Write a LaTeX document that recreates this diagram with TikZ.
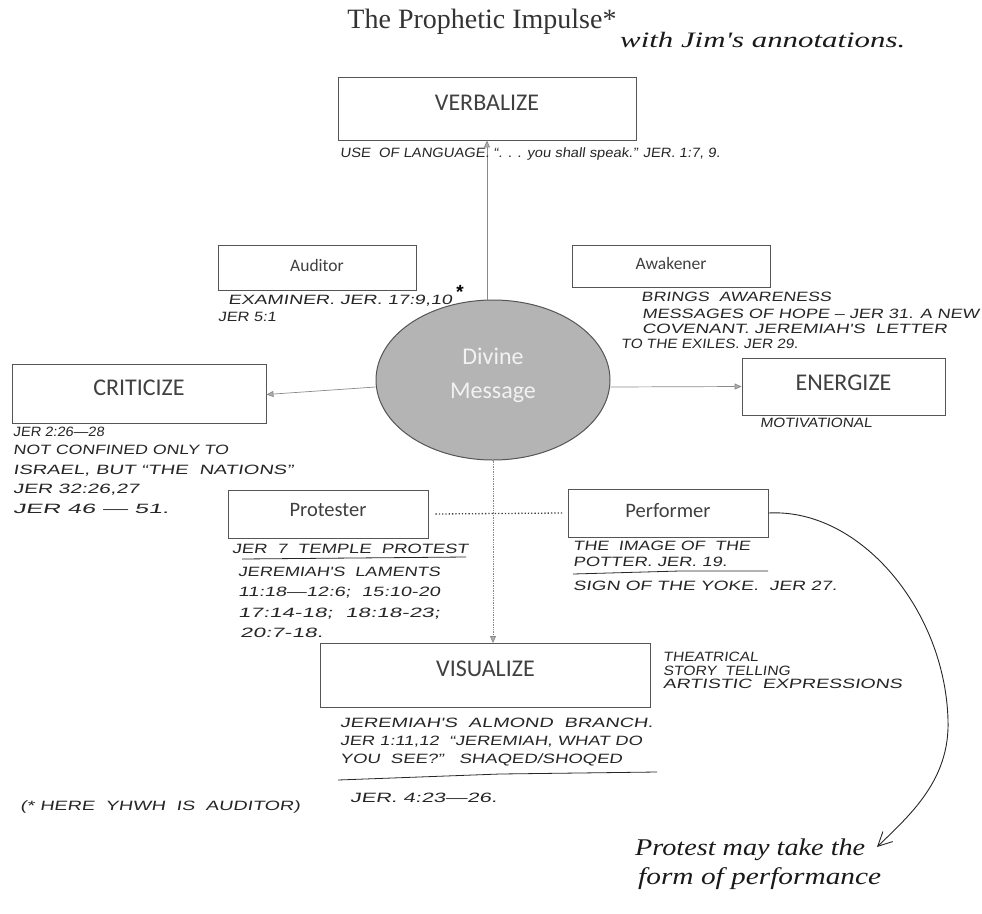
\documentclass[tikz,border=0pt]{standalone}
\usepackage{fontspec}
\usepackage{graphicx}
\setmainfont{Liberation Serif}
\newfontfamily\boxfont{Carlito}
\newfontfamily\hand{Liberation Sans}[FakeSlant=0.12]
\newfontfamily\cursive{Liberation Serif}
\usetikzlibrary{arrows.meta,shapes.geometric}
\definecolor{boxline}{HTML}{555555}
\definecolor{conn}{HTML}{8A8A8A}
\definecolor{ellfill}{HTML}{B4B4B4}
\newcommand{\hw}[2]{\resizebox{#1pt}{\height}{#2}}
\tikzset{
  rolebox/.style={draw=boxline, line width=0.9pt, fill=white, inner sep=0pt},
  roletext/.style={inner sep=0pt, font=\boxfont\fontsize{#1}{#1}\selectfont, text=black!75},
  conline/.style={draw=conn, line width=0.7pt},
  contip/.style={-{Triangle[length=7pt,width=6pt,fill=conn!70]}},
  note/.style={anchor=base west, inner sep=0pt, font=\hand\fontsize{13.5}{15}\selectfont, text=black!85},
  inkline/.style={draw=black!85, line width=0.8pt},
  cursivetext/.style={anchor=base west, inner sep=0pt, font=\cursive\itshape\fontsize{#1}{#1}\selectfont, text=black!90},
}
\begin{document}
\begin{tikzpicture}[x=1pt,y=-1pt]
\useasboundingbox (0,0) rectangle (982,913);
% title
\node[anchor=base, inner sep=0pt, font=\fontsize{28}{30}\selectfont, text=black!80] (title) at (482,28) {The Prophetic Impulse*};
\node[cursivetext=22] (jim) at (620,47) {\hw{285}{with Jim's annotations.}};
% boxes
\node[rolebox, minimum width=298pt, minimum height=63pt] (verb) at (487,108.5) {};
\node[roletext=24] (verbt) at (487,103) {VERBALIZE};
\node[rolebox, minimum width=198pt, minimum height=45pt] (aud) at (317,267.5) {};
\node[roletext=17.5] (audt) at (317,265) {Auditor};
\node[rolebox, minimum width=198pt, minimum height=42pt] (awk) at (671,266) {};
\node[roletext=17.5] (awkt) at (671,263) {Awakener};
\node[rolebox, minimum width=254pt, minimum height=59pt] (crit) at (139,393.5) {};
\node[roletext=24] (critt) at (139,388) {CRITICIZE};
\node[rolebox, minimum width=203pt, minimum height=57pt] (ener) at (843.5,386.5) {};
\node[roletext=24] (enert) at (843.5,383) {ENERGIZE};
\node[rolebox, minimum width=200pt, minimum height=48pt] (prot) at (328,514) {};
\node[roletext=20.5] (prott) at (328,510) {Protester};
\node[rolebox, minimum width=200pt, minimum height=48pt] (perf) at (668,513) {};
\node[roletext=20.5] (perft) at (668,511) {Performer};
\node[rolebox, minimum width=330pt, minimum height=64pt] (vis) at (485.5,675.5) {};
\node[roletext=24] (vist) at (485.5,669) {VISUALIZE};
% ellipse
\node[ellipse, draw=boxline, line width=1pt, fill=ellfill, minimum width=234pt, minimum height=160pt, inner sep=0pt] (div) at (493,380) {};
\node[inner sep=0pt, align=center, font=\boxfont\fontsize{24}{34}\selectfont, text=white!95!black] (divt) at (493,375) {Divine\\Message};
% connectors
\draw[conline, contip] (div.north -| verb.south) -- (verb.south);
\draw[conline, contip] ([yshift=-7pt]div.west) -- ([yshift=-1pt]crit.east);
\draw[conline, contip] ([yshift=-7pt]div.east) -- (ener.west);
\draw[conline, contip, densely dotted] (div.south) -- (div.south |- vis.north);
\draw[draw=black!75, line width=1.3pt, dotted] ([xshift=7pt]prot.east) -- ([xshift=-5pt]perf.west);
% annotations
\node[note] (vnote) at (340,157) {\hw{380}{USE\ \ OF LANGUAGE. “. . . you shall speak.” JER. 1:7, 9.}};
\node[note] (anote1) at (228,304) {\hw{224}{EXAMINER. JER. 17:9,10}};
\node[anchor=base west, inner sep=0pt, font=\hand\bfseries\fontsize{19}{19}\selectfont] (astar) at (455,298) {*};
\node[note] (anote2) at (218,321) {\hw{58}{JER 5:1}};
\node[note] (wnote1) at (641,301) {\hw{190}{BRINGS \ AWARENESS}};
\node[note] (wnote2) at (642,318) {\hw{337}{MESSAGES OF HOPE – JER 31. A NEW}};
\node[note] (wnote3) at (642,333) {\hw{305}{COVENANT. JEREMIAH'S \ LETTER}};
\node[note] (wnote4) at (621,348) {\hw{177}{TO THE EXILES. JER 29.}};
\node[note] (cnote1) at (13,436) {\hw{91}{JER 2:26—28}};
\node[note] (cnote2) at (13,454) {\hw{215}{NOT CONFINED ONLY TO}};
\node[note] (cnote3) at (13,474) {\hw{280}{ISRAEL, BUT “THE \ NATIONS”}};
\node[note] (cnote4) at (13,493) {\hw{126}{JER 32:26,27}};
\node[note] (cnote5) at (13,513) {\hw{156}{JER 46 — 51.}};
\node[note] (enote) at (760,427) {\hw{112}{MOTIVATIONAL}};
\node[note] (pnote1) at (232,553) {\hw{236}{JER \ 7 \ TEMPLE \ PROTEST}};
\draw[inkline] (242,559) -- (466,557);
\node[note] (pnote2) at (238,576) {\hw{202}{JEREMIAH'S \ LAMENTS}};
\node[note] (pnote3) at (238,596) {\hw{202}{11:18—12:6; \ 15:10-20}};
\node[note] (pnote4) at (238,617) {\hw{202}{17:14-18; \ 18:18-23;}};
\node[note] (pnote5) at (240,637) {\hw{83}{20:7-18.}};
\node[note] (fnote1) at (573,550) {\hw{177}{THE \ IMAGE OF \ THE}};
\node[note] (fnote2) at (573,566) {\hw{154}{POTTER. JER. 19.}};
\draw[inkline] (573,574) -- (680,571) -- (768,571);
\node[note] (fnote3) at (573,590) {\hw{264}{SIGN OF THE YOKE. \ JER 27.}};
\node[note] (xnote1) at (663,661) {\hw{95}{THEATRICAL}};
\node[note] (xnote2) at (663,675) {\hw{127}{STORY \ TELLING}};
\node[note] (xnote3) at (663,688) {\hw{239}{ARTISTIC \ EXPRESSIONS}};
\node[note] (snote1) at (340,727) {\hw{313}{JEREMIAH'S \ ALMOND \ BRANCH.}};
\node[note] (snote2) at (340,745) {\hw{302}{JER 1:11,12 \ “JEREMIAH, WHAT DO}};
\node[note] (snote3) at (340,763) {\hw{282}{YOU \ SEE?” \ \ SHAQED/SHOQED}};
\draw[inkline] (338,780) -- (500,774) -- (657,772);
\node[note] (snote4) at (350,802) {\hw{147}{JER. 4:23—26.}};
\node[note] (foot) at (20,810) {\hw{280}{(* HERE \ YHWH \ IS \ AUDITOR)}};
% curved arrow
\coordinate (tipend) at (877,847);
\draw[draw=black!85, line width=0.9pt, -{Straight Barb[length=14pt,width=14pt]}] (perf.east) .. controls (860,508) and (945,610) .. (948,720) .. controls (950,780) and (910,815) .. (tipend);
\node[cursivetext=24] (pm1) at (635,855) {\hw{230}{Protest may take the}};
\node[cursivetext=24] (pm2) at (638,884) {\hw{243}{form of performance}};
\end{tikzpicture}
\end{document}
